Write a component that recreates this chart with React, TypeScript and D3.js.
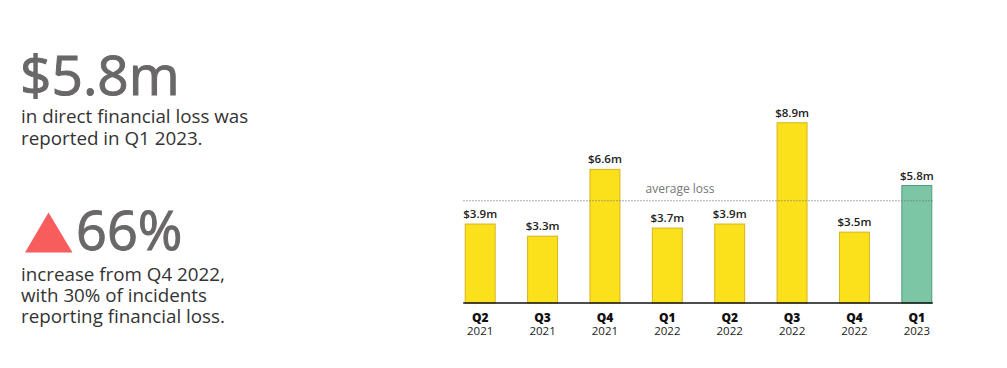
import { useMemo } from 'react'
import * as d3 from 'd3'

const QUARTERS = ['Q2', 'Q3', 'Q4', 'Q1', 'Q2', 'Q3', 'Q4', 'Q1']
const YEARS = ['2021', '2021', '2021', '2022', '2022', '2022', '2022', '2023']
const LOSSES = [3.9, 3.3, 6.6, 3.7, 3.9, 8.9, 3.5, 5.8]
const AVERAGE_LOSS = 5.05

const HEADLINE = '$5.8m'
const HEADLINE_TEXT = ['in direct financial loss was', 'reported in Q1 2023.']
const CHANGE = '66%'
const CHANGE_TEXT = ['increase from Q4 2022,', 'with 30% of incidents', 'reporting financial loss.']

const FONT = '"Open Sans", "Noto Sans", sans-serif'
const YELLOW = '#fbe01c'
const YELLOW_EDGE = '#d9b21e'
const GREEN = '#7cc6a6'
const GREEN_EDGE = '#4f9b7c'
const BIG_GREY = '#696767'

export default function App() {
  const width = 1007
  const height = 368
  const baseline = 303
  const keys = LOSSES.map((_, i) => `${QUARTERS[i]} ${YEARS[i]}`)

  const x = useMemo(
    () => d3.scaleBand().domain(keys).range([449, 948]).paddingInner(0.52).paddingOuter(0.26),
    []
  )
  const y = useMemo(() => d3.scaleLinear().domain([0, 10]).range([baseline, baseline - 202.5]), [])

  const bw = x.bandwidth()
  const first = x(keys[0]) ?? 0
  const last = (x(keys[keys.length - 1]) ?? 0) + bw

  return (
    <svg
      width={width}
      height={height}
      style={{ position: 'absolute', left: 0, top: 0, background: '#fff' }}
      fontFamily={FONT}
    >
      {/* left side callouts */}
      <text x={20} y={95} fontSize={55} fill={BIG_GREY} stroke={BIG_GREY} strokeWidth={1}>
        {HEADLINE}
      </text>
      {HEADLINE_TEXT.map((t, i) => (
        <text key={t} x={21} y={123 + i * 22} fontSize={18.8} fill="#333">{t}</text>
      ))}

      <path d="M48.5,212.5 L72.5,252.5 L25,252.5 Z" fill="#f85d5e" />
      <text x={76} y={250} fontSize={54} fill={BIG_GREY} stroke={BIG_GREY} strokeWidth={1}>
        {CHANGE}
      </text>
      {CHANGE_TEXT.map((t, i) => (
        <text key={t} x={21} y={280.5 + i * 21.2} fontSize={18.8} fill="#333">{t}</text>
      ))}

      {/* bars */}
      {LOSSES.map((v, i) => {
        const bx = x(keys[i]) ?? 0
        const isLast = i === LOSSES.length - 1
        return (
          <g key={keys[i]}>
            <rect
              x={bx}
              y={y(v)}
              width={bw}
              height={baseline - y(v)}
              fill={isLast ? GREEN : YELLOW}
              stroke={isLast ? GREEN_EDGE : YELLOW_EDGE}
              strokeWidth={1}
            />
            <text
              x={bx + bw / 2}
              y={y(v) - 6}
              textAnchor="middle"
              fontSize={11.5}
              fontWeight={600}
              fill="#222"
            >
              ${v.toFixed(1)}m
            </text>
            <text x={bx + bw / 2} y={322} textAnchor="middle" fontSize={12} fontWeight={800} fill="#111">
              {QUARTERS[i]}
            </text>
            <text x={bx + bw / 2} y={335} textAnchor="middle" fontSize={11.5} fill="#222">
              {YEARS[i]}
            </text>
          </g>
        )
      })}

      {/* average line */}
      <line
        x1={first - 2}
        x2={last + 1}
        y1={y(AVERAGE_LOSS)}
        y2={y(AVERAGE_LOSS)}
        stroke="#777"
        strokeWidth={0.8}
        strokeDasharray="1.5,1.5"
      />
      <text x={680} y={y(AVERAGE_LOSS) - 8} textAnchor="middle" fontSize={12} fill="#777">
        average loss
      </text>

      {/* baseline */}
      <line x1={first - 2} x2={last + 1} y1={baseline} y2={baseline} stroke="#111" strokeWidth={1.5} />
    </svg>
  )
}
